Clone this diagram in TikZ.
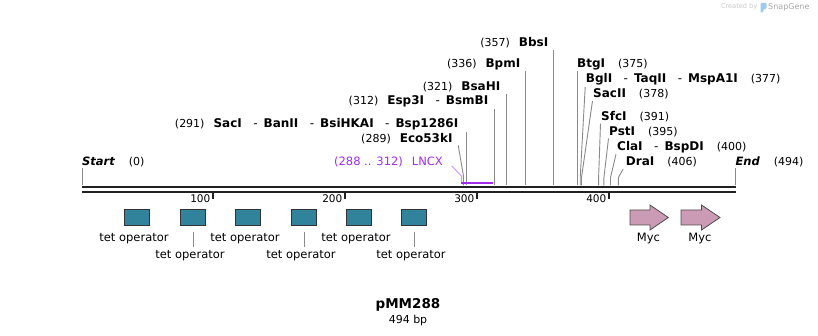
\documentclass[tikz,border=0pt]{standalone}
\usepackage{fontspec}
\setmainfont{DejaVu Sans}
\usepackage{xcolor}
\usepackage{tikz}
\usetikzlibrary{calc}

\definecolor{tetblue}{HTML}{31839C}
\definecolor{mycpink}{HTML}{CB9AB5}
\definecolor{lncxviolet}{HTML}{A22CEB}
\definecolor{sitegray}{HTML}{8A8A8A}
\definecolor{logoblue}{HTML}{9CCBEB}

\newcommand{\sitecount}[1]{{\fontsize{11}{13}\selectfont\mdseries\upshape(#1)}}
\newcommand{\siteand}{\hspace{11.5pt}{\mdseries -}\hspace{6pt}}

\begin{document}
\begin{tikzpicture}[x=1pt,y=-1pt,
		sitelabel/.style={font=\fontsize{12}{14}\selectfont\bfseries, inner xsep=0pt, inner ysep=1.5pt},
		siteline/.style={draw=sitegray, line width=0.9pt},
		featlabel/.style={font=\fontsize{11.5}{13}\selectfont, inner sep=0pt},
		ticklabel/.style={font=\fontsize{10.5}{12}\selectfont, inner sep=0pt, anchor=east},
		tetbox/.style={draw=black!80, fill=tetblue, line width=0.8pt, minimum width=25.4pt, minimum height=16.4pt, inner sep=0pt},
		mycarrow/.style={draw=black!70, fill=mycpink, line width=0.8pt, line join=miter},
		backbone/.style={draw=black!87, line width=2.8pt}]
		\useasboundingbox (0,0) rectangle (818,336);

		% sequence line and ruler
		\draw[backbone] (81.5,187) -- (736,187);
		\draw[backbone, line width=2.5pt] (81.5,192) -- (736,192);
		\foreach \t/\lab in {213/100,345/200,477/300,609/400} {
			\draw[black!87, line width=2pt] (\t,193) -- (\t,199.5);
			\node[ticklabel] (tick\lab) at (\t-2.5,199) {\lab};
		}

		% cut sites on the line
		\coordinate (s0) at (82,185.5);
		\coordinate (s289) at (463.4,185.5);
		\coordinate (s291) at (466.2,185.5);
		\coordinate (s312) at (494,185.5);
		\coordinate (s321) at (506.3,185.5);
		\coordinate (s336) at (525.7,185.5);
		\coordinate (s357) at (553.6,185.5);
		\coordinate (s375) at (577.3,185.5);
		\coordinate (s377) at (580.2,185.5);
		\coordinate (s378) at (581.5,185.5);
		\coordinate (s391) at (598.6,185.5);
		\coordinate (s395) at (603.9,185.5);
		\coordinate (s400) at (610.5,185.5);
		\coordinate (s406) at (618.4,185.5);
		\coordinate (s494) at (735.3,185.5);

		% enzyme labels
		\node[sitelabel, anchor=west, font=\fontsize{11.5}{13}\selectfont\bfseries\itshape] (start) at (82,161.7) {Start\hspace{14pt}\sitecount{0}};
		\node[sitelabel, anchor=west, font=\fontsize{11.5}{13}\selectfont\bfseries\itshape] (end) at (735.3,161.7) {End\hspace{14pt}\sitecount{494}};
		\node[sitelabel, anchor=east] (sacI) at (458.5,124) {\sitecount{291}\hspace{9pt}SacI\siteand BanII\siteand BsiHKAI\siteand Bsp1286I};
		\node[sitelabel, anchor=east] (eco) at (452.7,138.3) {\sitecount{289}\hspace{9pt}Eco53kI};
		\node[sitelabel, anchor=east] (esp) at (488.5,101.7) {\sitecount{312}\hspace{9pt}Esp3I\siteand BsmBI};
		\node[sitelabel, anchor=east] (bsaHI) at (500.5,87.3) {\sitecount{321}\hspace{9pt}BsaHI};
		\node[sitelabel, anchor=east] (bpmI) at (520.5,64) {\sitecount{336}\hspace{9pt}BpmI};
		\node[sitelabel, anchor=east] (bbsI) at (548.5,42.7) {\sitecount{357}\hspace{9pt}BbsI};
		\node[sitelabel, anchor=west] (btgI) at (577,64) {BtgI\hspace{13pt}\sitecount{375}};
		\node[sitelabel, anchor=west] (bglI) at (585.7,79.3) {BglI\siteand TaqII\siteand MspA1I\hspace{13pt}\sitecount{377}};
		\node[sitelabel, anchor=west] (sacII) at (593,94) {SacII\hspace{13pt}\sitecount{378}};
		\node[sitelabel, anchor=west] (sfcI) at (601,116.7) {SfcI\hspace{13pt}\sitecount{391}};
		\node[sitelabel, anchor=west] (pstI) at (609,131.7) {PstI\hspace{13pt}\sitecount{395}};
		\node[sitelabel, anchor=west] (claI) at (617,146.7) {ClaI\siteand BspDI\hspace{13pt}\sitecount{400}};
		\node[sitelabel, anchor=west] (draI) at (625.7,162.3) {DraI\hspace{13pt}\sitecount{406}};

		% leaders
		\draw[siteline] (s0) -- (s0 |- start.south);
		\draw[siteline] (s494) -- (s494 |- end.south);
		\draw[siteline] (s291) -- (s291 |- sacI.south);
		\draw[siteline] ($(eco.south east)+(5.5,0)$) -- ($(s289)+(0,-10)$) -- (s289);
		\draw[siteline] (s312) -- (s312 |- esp.south);
		\draw[siteline] (s321) -- (s321 |- bsaHI.south);
		\draw[siteline] (s336) -- (s336 |- bpmI.south);
		\draw[siteline] (s357) -- (s357 |- bbsI.south);
		\draw[siteline] (s375) -- (s375 |- btgI.south);
		\draw[siteline] ($(bglI.south west)+(-0.5,0)$) -- ($(s377)+(0,-8)$) -- (s377);
		\draw[siteline] ($(sacII.south west)+(-0.5,0)$) -- ($(s378)+(0,-8)$) -- (s378);
		\draw[siteline] ($(sfcI.south west)+(-0.5,0)$) -- ($(s391)+(0,-8)$) -- (s391);
		\draw[siteline] ($(pstI.south west)+(-0.5,0)$) -- ($(s395)+(0,-8)$) -- (s395);
		\draw[siteline] ($(claI.south west)+(-1,0)$) -- ($(s400)+(0,-8)$) -- (s400);
		\draw[siteline] ($(draI.south west)+(-2.5,0)$) -- ($(s406)+(0,-8)$) -- (s406);

		% LNCX
		\draw[lncxviolet, line width=2.2pt] (461,183) -- (493,183);
		\node[featlabel, text=lncxviolet, anchor=east] (lncx) at (443,162.3) {(288 .. 312)\hspace{9pt}LNCX};
		\coordinate (lncxend) at (461.5,182);
		\draw[lncxviolet!50, line width=0.9pt] ($(lncx.east)+(8.7,3.7)$) -- ($(lncxend)+(0,-6)$) -- (lncxend);

		% tet operators
		\node[tetbox] (tet1) at (137,217.5) {};
		\node[tetbox] (tet2) at (193,217.5) {};
		\node[tetbox] (tet3) at (248,217.5) {};
		\node[tetbox] (tet4) at (304,217.5) {};
		\node[tetbox] (tet5) at (359,217.5) {};
		\node[tetbox] (tet6) at (414,217.5) {};
		\node[featlabel] (tetlab1) at (134,239) {tet operator};
		\node[featlabel] (tetlab2) at (190,255.5) {tet operator};
		\node[featlabel] (tetlab3) at (245,239) {tet operator};
		\node[featlabel] (tetlab4) at (301,255.5) {tet operator};
		\node[featlabel] (tetlab5) at (356,239) {tet operator};
		\node[featlabel] (tetlab6) at (411,255.5) {tet operator};
		\draw[sitegray, line width=0.8pt] ([yshift=-6pt]tet2.south) -- ([yshift=-21pt]tet2.south);
		\draw[sitegray, line width=0.8pt] ([yshift=-6pt]tet4.south) -- ([yshift=-21pt]tet4.south);
		\draw[sitegray, line width=0.8pt] ([yshift=-6pt]tet6.south) -- ([yshift=-21pt]tet6.south);

		% Myc tags
		\draw[mycarrow] (630,210) -- (650,210) -- (650,205) -- (668.3,217.5) -- (650,230) -- (650,225) -- (630,225) -- cycle;
		\draw[mycarrow] (681,210) -- (701.5,210) -- (701.5,205) -- (720,217.5) -- (701.5,230) -- (701.5,225) -- (681,225) -- cycle;
		\node[featlabel] (myclab1) at (648.5,239) {Myc};
		\node[featlabel] (myclab2) at (700,239) {Myc};

		% title
		\node[font=\fontsize{13.5}{15}\selectfont\bfseries, inner sep=0pt] (title) at (408,305) {pMM288};
		\node[font=\fontsize{11}{13}\selectfont, inner sep=0pt] (length) at (408,320) {494 bp};

		% watermark
		\node[font=\fontsize{6.6}{8}\selectfont, text=black!22, anchor=east, inner sep=0pt] (created) at (757.5,7) {Created by};
		\fill[logoblue, rounded corners=0.8pt] (760.5,3) -- (766.5,3) -- (766.5,8.5) -- (763.3,9.5) -- (763.3,12.5) -- (760.5,12.5) -- cycle;
		\node[font=\fontsize{8}{9}\selectfont, text=black!35, anchor=west, inner sep=0pt] (snapgene) at (768,7.5) {SnapGene};
	\end{tikzpicture}
\end{document}
